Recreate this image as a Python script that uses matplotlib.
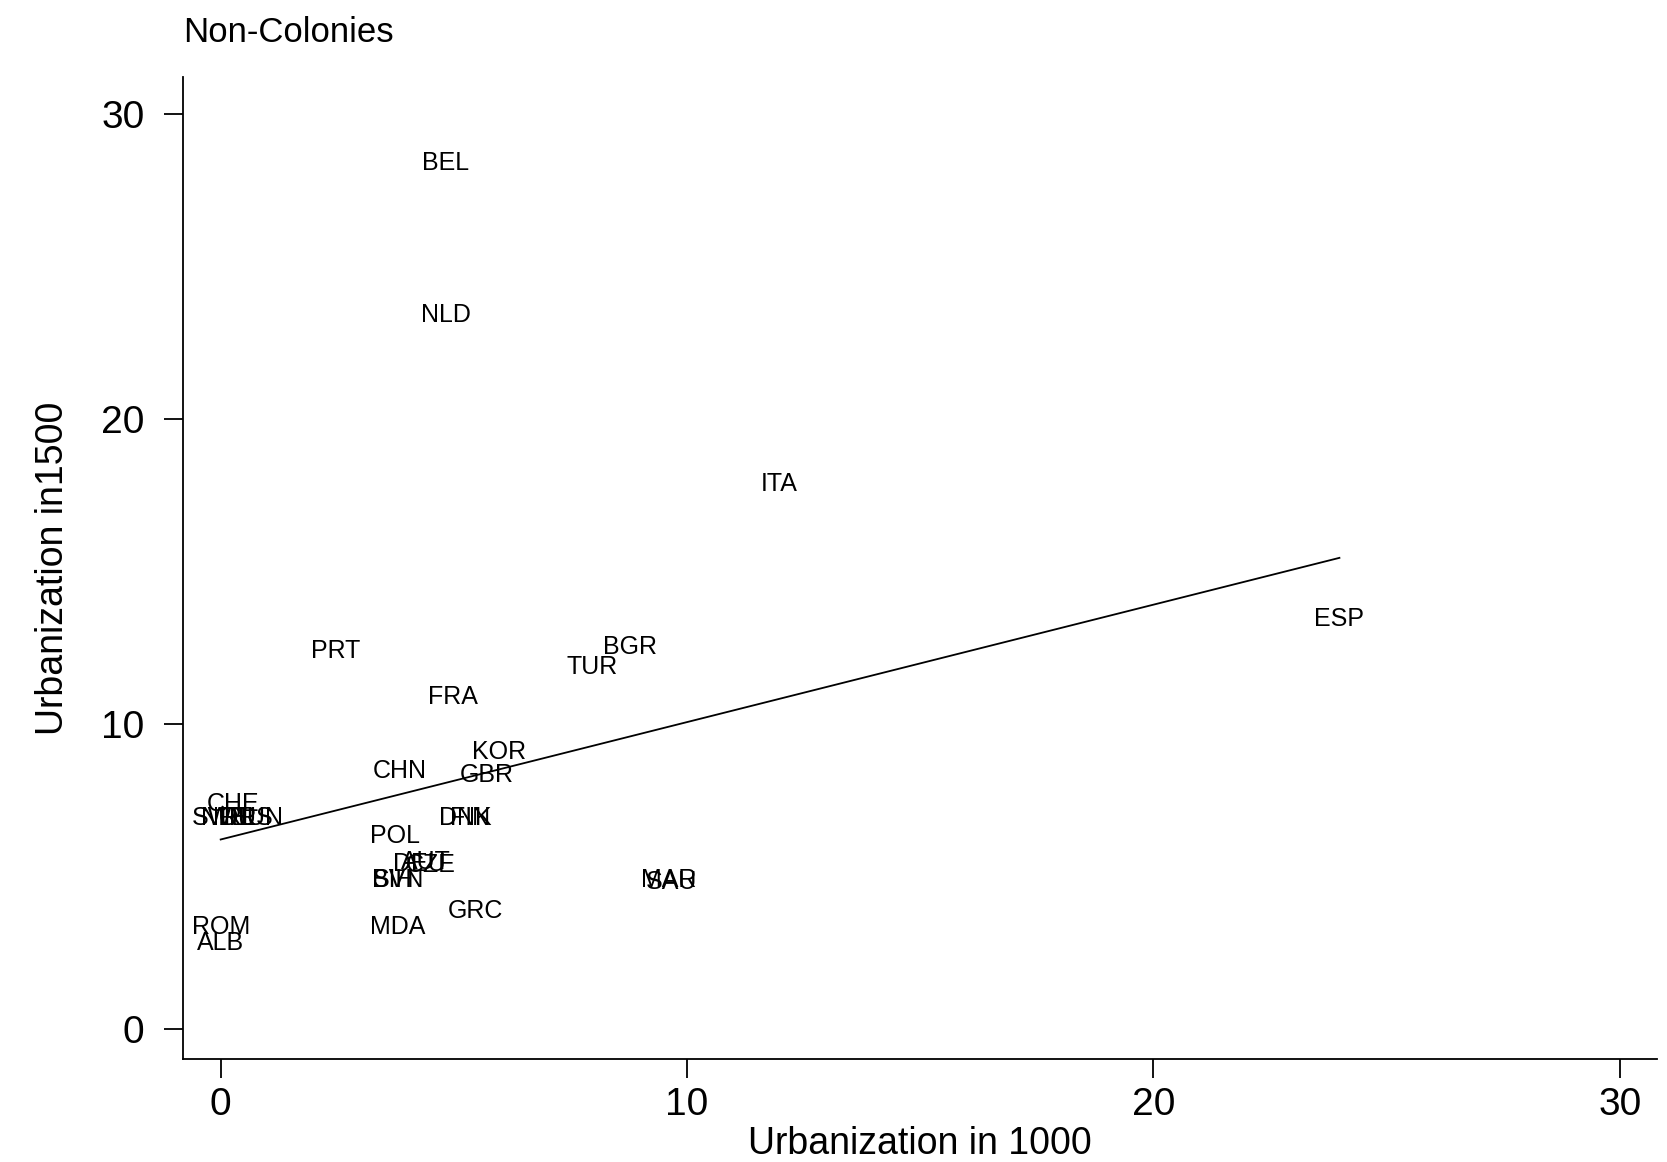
import matplotlib
matplotlib.use("Agg")
import matplotlib.pyplot as plt
import numpy as np

plt.rcParams['font.family'] = ['Liberation Sans', 'DejaVu Sans']

# country codes and urbanization values
codes = ["BEL", "NLD", "ITA", "ESP", "PRT", "BGR", "TUR", "FRA", "KOR", "GBR",
         "CHN", "CHE", "SWE", "NOR", "IRL", "RUS", "HUN", "DNK", "FIN", "POL",
         "DEU", "AUT", "CZE", "BIH", "SVN", "MAR", "SAU", "GRC", "MDA", "ROM", "ALB"]
urb_1000 = [4.83, 4.83, 11.97, 23.99, 2.46, 8.78, 7.96, 4.97, 5.97, 5.70,
            3.85, 0.27, 0.0, 0.18, 0.35, 0.55, 0.75, 5.25, 5.35, 3.74,
            4.25, 4.40, 4.50, 3.70, 3.82, 9.60, 9.66, 5.47, 3.79, 0.0, 0.0]
urb_1500 = [28.37, 23.39, 17.86, 13.44, 12.39, 12.50, 11.87, 10.86, 9.08, 8.32,
            8.46, 7.38, 6.89, 6.89, 6.89, 6.89, 6.89, 6.89, 6.89, 6.33,
            5.40, 5.45, 5.35, 4.87, 4.87, 4.87, 4.80, 3.86, 3.34, 3.34, 2.82]

# fitted line
fit_intercept = 6.2
fit_slope = 0.385

fig = plt.figure(figsize=(16.67, 11.62), dpi=100)
ax = fig.add_axes([0.110, 0.0886, 0.884, 0.845])

for c, x, y in zip(codes, urb_1000, urb_1500):
    ax.text(x, y, c, ha="center", va="center", fontsize=18, color="black")

xs = np.array([min(urb_1000), max(urb_1000)])
ax.plot(xs, fit_intercept + fit_slope * xs, color="black", lw=1.3)

ax.set_xlim(-0.8, 30.8)
ax.set_ylim(-1.0, 31.2)
ax.set_xticks([0, 10, 20, 30])
ax.set_yticks([0, 10, 20, 30])
ax.tick_params(axis="both", direction="out", length=14, width=1.3, labelsize=28)
ax.tick_params(axis="x", pad=6)
ax.tick_params(axis="y", pad=14)
for s in ["top", "right"]:
    ax.spines[s].set_visible(False)
for s in ["left", "bottom"]:
    ax.spines[s].set_linewidth(1.3)

ax.set_xlabel("Urbanization in 1000", fontsize=27, labelpad=2)
ax.set_ylabel("Urbanization in1500", fontsize=27, labelpad=22)
fig.text(0.110, 0.972, "Non-Colonies", fontsize=25, ha="left", va="center")

fig.savefig("out.png", dpi=100)
